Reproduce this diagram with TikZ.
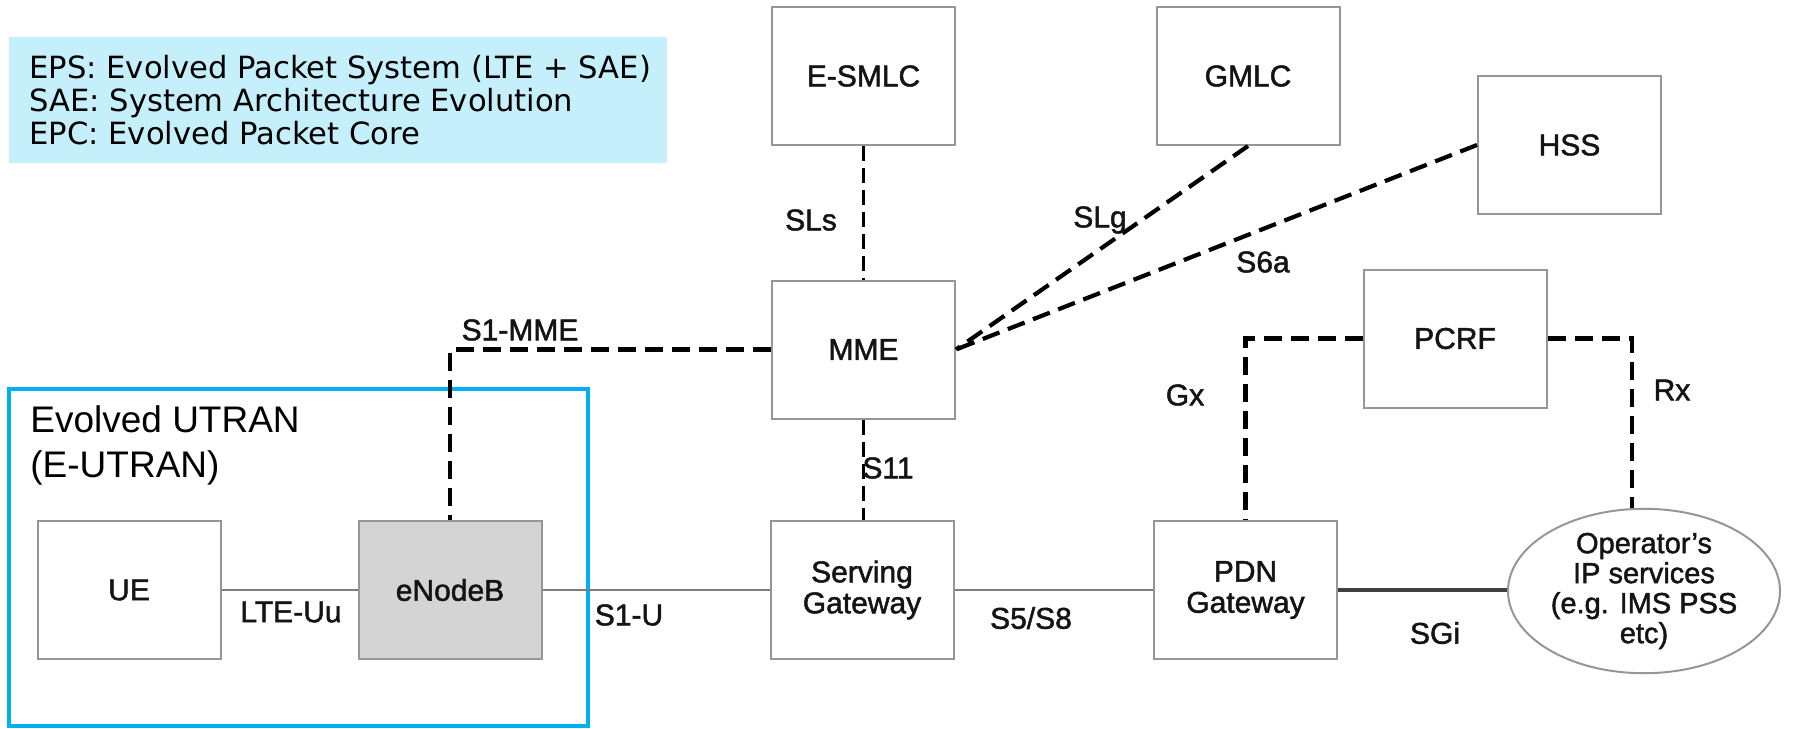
\documentclass[tikz,border=0pt]{standalone}
\usepackage{fontspec}
\setmainfont{Liberation Sans}
\newfontfamily\diafont{Liberation Sans}[FakeBold=1.6]
\newfontfamily\legendfont{DejaVu Sans}
\usetikzlibrary{shapes.geometric}
\definecolor{boxgray}{RGB}{150,150,150}
\definecolor{enbfill}{RGB}{212,212,212}
\definecolor{utranblue}{RGB}{0,176,240}
\definecolor{legendfill}{RGB}{198,239,252}
\definecolor{linegray}{RGB}{125,125,125}
\definecolor{txt}{RGB}{20,20,20}
\begin{document}
\begin{tikzpicture}[x=0.5pt,y=-0.5pt,
  nebox/.style={draw=boxgray, line width=1pt, minimum width=91.5pt, minimum height=69pt,
    inner sep=0pt, align=center, text=txt, font=\diafont\fontsize{15}{15.5}\selectfont},
  lbl/.style={inner sep=0pt, text=txt, font=\diafont\fontsize{15}{16}\selectfont},
  dashline/.style={line width=2.1pt, dash pattern=on 9pt off 4.5pt},
  vdashline/.style={line width=1.7pt, dash pattern=on 7.5pt off 3.5pt},
  solidline/.style={draw=linegray, line width=1.4pt},
  darkline/.style={draw=black!75, line width=1.8pt}
]
\useasboundingbox (0,0) rectangle (1802,728);

% legend
\fill[legendfill] (9,37) rectangle (667,163);
\node[anchor=north west, inner sep=0pt, align=left, font={\legendfont\fontsize{15.3}{16.5}\selectfont}]
  (legend) at (29,55) {EPS: Evolved Packet System (LTE + SAE)\\SAE: System Architecture Evolution\\EPC: Evolved Packet Core};

% E-UTRAN frame
\draw[utranblue, line width=2pt] (9,389) rectangle (588,726);
\node[anchor=north west, inner sep=0pt, align=left, font=\fontsize{18.5}{22.5}\selectfont]
  (eutran) at (30,405) {Evolved UTRAN\\(E-UTRAN)};

% boxes
\node[nebox] (esmlc) at (863.5,76) {E-SMLC};
\node[nebox] (gmlc) at (1248,76) {GMLC};
\node[nebox] (hss) at (1569.5,145) {HSS};
\node[nebox] (mme) at (863.5,349.5) {MME};
\node[nebox] (pcrf) at (1455,338.5) {PCRF};
\node[nebox] (ue) at (129,590) {UE};
\node[nebox, fill=enbfill] (enb) at (450,590) {eNodeB};
\node[nebox] (sgw) at (862,590) {Serving\\Gateway};
\node[nebox] (pdn) at (1245.5,590) {PDN\\Gateway};
\node[draw=boxgray, line width=1pt, ellipse, minimum width=136pt, minimum height=74pt,
  inner sep=0pt, align=center, text=txt, font=\diafont\fontsize{14.5}{15}\selectfont]
  (ops) at (1644,591) {Operator’s\\IP services\\(e.g. IMS PSS\\etc)};

% dashed connectors
\draw[vdashline] (esmlc.south) -- (mme.north);
\draw[dashline] (gmlc.south) -- (mme.east);
\draw[dashline] (hss.west) -- (mme.east);
\draw[dashline] (mme.west) -| (enb.north);
\draw[vdashline] (mme.south) -- (mme.south |- sgw.north);
\draw[dashline] (pcrf.west) -| (pdn.north);
\draw[dashline] (pcrf.east) -| (ops.98);

% solid connectors
\draw[solidline] (ue.east) -- (enb.west);
\draw[solidline] (enb.east) -- (sgw.west);
\draw[solidline] (sgw.east) -- (pdn.west);
\draw[darkline] (pdn.east) -- (pdn.east -| ops.west);

% interface labels
\node[lbl] (lsls) at (811,220) {SLs};
\node[lbl] (lslg) at (1100,220) {SLg};
\node[lbl] (ls6a) at (1263,262) {S6a};
\node[lbl] (ls1mme) at (520,330) {S1-MME};
\node[lbl] (ls11) at (888,468) {S11};
\node[lbl] (llte) at (291,612) {LTE-Uu};
\node[lbl] (ls1u) at (629,615) {S1-U};
\node[lbl] (ls5) at (1031,618) {S5/S8};
\node[lbl] (lsgi) at (1435,633) {SGi};
\node[lbl] (lgx) at (1185,395) {Gx};
\node[lbl] (lrx) at (1672,390) {Rx};
\end{tikzpicture}
\end{document}
